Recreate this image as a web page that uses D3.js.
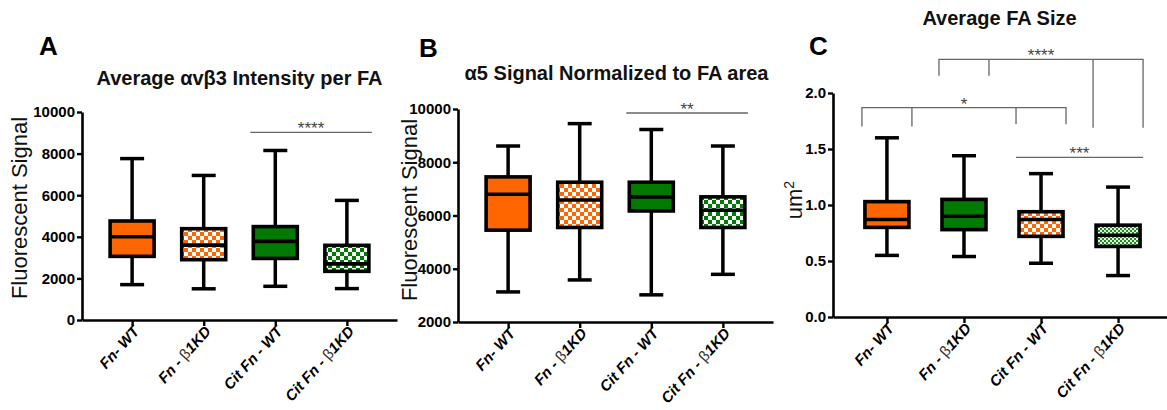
<!DOCTYPE html>
<html>
<head>
<meta charset="utf-8">
<script src="https://cdn.jsdelivr.net/npm/d3@7"></script>
<style>
  body { margin: 0; background: #fff; }
  text { font-family: "Liberation Sans", Arial, sans-serif; }
</style>
</head>
<body>
<div id="chart"></div>
<script>
// Groups (x axis labels); the "β" part is drawn lighter
const categories = ["Fn- WT", "Fn - β1KD", "Cit Fn - WT", "Cit Fn - β1KD"];

// Panel A: average avb3 intensity per FA
const aLow = [1700, 1500, 1620, 1510];
const aQ1 = [3060, 2900, 2960, 2340];
const aMed = [4000, 3600, 3780, 2700];
const aQ3 = [4760, 4390, 4490, 3590];
const aHigh = [7760, 6950, 8150, 5750];
const aTicks = [0, 2000, 4000, 6000, 8000, 10000];

// Panel B: a5 signal normalized to FA area
const bLow = [3130, 3580, 3020, 3790];
const bQ1 = [5450, 5550, 6170, 5550];
const bMed = [6800, 6580, 6700, 6200];
const bQ3 = [7450, 7250, 7250, 6700];
const bHigh = [8610, 9450, 9230, 8610];
const bTicks = [2000, 4000, 6000, 8000, 10000];

// Panel C: average FA size (um2)
const cLow = [0.55, 0.54, 0.48, 0.37];
const cQ1 = [0.80, 0.78, 0.72, 0.63];
const cMed = [0.87, 0.90, 0.87, 0.73];
const cQ3 = [1.03, 1.05, 0.94, 0.82];
const cHigh = [1.60, 1.44, 1.28, 1.16];
const cTicks = [0.0, 0.5, 1.0, 1.5, 2.0];

const ORANGE = "#ff6600";
const GREEN = "#007a00";

const svg = d3.select("#chart").append("svg")
    .attr("width", 1167)
    .attr("height", 410);

// checker patterns
const defs = svg.append("defs");
const checker = (id, color, cell, light) => {
    const p = defs.append("pattern")
        .attr("id", id)
        .attr("patternUnits", "userSpaceOnUse")
        .attr("width", cell * 2)
        .attr("height", cell * 2);
    p.append("rect").attr("width", cell * 2).attr("height", cell * 2).attr("fill", light);
    p.append("rect").attr("width", cell).attr("height", cell).attr("fill", color);
    p.append("rect").attr("x", cell).attr("y", cell).attr("width", cell).attr("height", cell).attr("fill", color);
};
checker("chkOrange", ORANGE, 4, "#fff");
checker("chkGreen", GREEN, 4, "#fff");
checker("chkGreenFine", "#1e8c1e", 2, "#e6f4e6");

const drawPanel = (cfg) => {
    const g = svg.append("g");

    const x = d3.scalePoint()
        .domain(categories)
        .range([cfg.x0, cfg.x1])
        .padding(0.7);

    const y = d3.scaleLinear()
        .domain([cfg.ticks[0], cfg.ticks[cfg.ticks.length - 1]])
        .range([cfg.yBot, cfg.yTop]);

    // y axis
    const yAxis = g.append("g")
        .attr("transform", `translate(${cfg.x0}, 0)`)
        .call(d3.axisLeft(y).tickValues(cfg.ticks).tickSize(5).tickPadding(2)
            .tickSizeOuter(0).tickFormat(cfg.fmt));
    yAxis.select(".domain").attr("stroke-width", 2.6);
    yAxis.selectAll(".tick line").attr("stroke-width", 2.4);
    yAxis.selectAll(".tick text")
        .attr("fill", "#000")
        .style("font-size", "15px")
        .style("font-weight", "bold");

    // x axis
    const xAxis = g.append("g")
        .attr("transform", `translate(0, ${cfg.yBot})`)
        .call(d3.axisBottom(x).tickSize(6).tickSizeOuter(0).tickFormat(""));
    xAxis.select(".domain").attr("stroke-width", 2.6);
    xAxis.selectAll(".tick line").attr("stroke-width", 2.4);

    const labels = g.selectAll(".xlab")
        .data(categories)
        .enter()
        .append("text")
        .attr("class", "xlab")
        .attr("transform", d => `translate(${x(d) + 8}, ${cfg.yBot + 12}) rotate(-48)`)
        .attr("text-anchor", "end")
        .style("font-size", "15px")
        .style("font-weight", "bold")
        .style("font-style", "italic");
    labels.each(function(d) {
        const parts = d.split("β");
        const t = d3.select(this);
        t.append("tspan").text(parts[0]);
        if (parts.length > 1) {
            t.append("tspan").text("β").style("font-weight", "normal").style("font-style", "normal")
                .attr("fill", "#333");
            t.append("tspan").text(parts[1]);
        }
    });

    // boxes
    const boxW = 44, capW = 24;
    const rows = categories.map((c, i) => ({
        c, low: cfg.low[i], q1: cfg.q1[i], med: cfg.med[i], q3: cfg.q3[i], high: cfg.high[i], fill: cfg.fills[i]
    }));
    const box = g.selectAll(".box").data(rows).enter().append("g").attr("class", "box");
    box.append("line")
        .attr("x1", d => x(d.c)).attr("x2", d => x(d.c))
        .attr("y1", d => y(d.low)).attr("y2", d => y(d.high))
        .attr("stroke", "#000").attr("stroke-width", 3.5);
    ["low", "high"].forEach(k => {
        box.append("line")
            .attr("x1", d => x(d.c) - capW / 2).attr("x2", d => x(d.c) + capW / 2)
            .attr("y1", d => y(d[k])).attr("y2", d => y(d[k]))
            .attr("stroke", "#000").attr("stroke-width", 3.5);
    });
    box.append("rect")
        .attr("x", d => x(d.c) - boxW / 2)
        .attr("y", d => y(d.q3))
        .attr("width", boxW)
        .attr("height", d => y(d.q1) - y(d.q3))
        .attr("fill", d => d.fill)
        .attr("stroke", "#000")
        .attr("stroke-width", 3.6);
    box.append("line")
        .attr("x1", d => x(d.c) - boxW / 2).attr("x2", d => x(d.c) + boxW / 2)
        .attr("y1", d => y(d.med)).attr("y2", d => y(d.med))
        .attr("stroke", "#000").attr("stroke-width", 3.6);

    // titles
    g.append("text")
        .attr("x", (cfg.x0 + cfg.x1) / 2 + cfg.titleDx)
        .attr("y", cfg.titleY)
        .attr("text-anchor", "middle")
        .style("font-size", "20px")
        .style("font-weight", "bold")
        .attr("fill", "#111")
        .text(cfg.title);
    g.append("text")
        .attr("x", cfg.letterX)
        .attr("y", cfg.letterY)
        .style("font-size", "26px")
        .style("font-weight", "bold")
        .text(cfg.letter);

    const yl = g.append("text")
        .attr("transform", `translate(${cfg.ylabX}, ${cfg.ylabY}) rotate(-90)`)
        .attr("text-anchor", "middle")
        .style("font-size", "22px")
        .attr("fill", "#111");
    yl.append("tspan").text(cfg.ylab);
    if (cfg.ylabSup) {
        yl.append("tspan").text(cfg.ylabSup).attr("dy", "-0.55em").style("font-size", "14px");
    }

    // significance marks
    const sigColor = "#666";
    const stars = (px, py, label) => g.append("text")
        .attr("x", px)
        .attr("y", py + 2)
        .attr("text-anchor", "middle")
        .style("font-size", "17px")
        .attr("fill", "#444")
        .text(label);
    (cfg.lines || []).forEach(s => {
        g.append("line")
            .attr("x1", x(categories[s.from]) - boxW / 2 - 3)
            .attr("x2", x(categories[s.to]) + boxW / 2 + 3)
            .attr("y1", y(s.at)).attr("y2", y(s.at))
            .attr("stroke", sigColor).attr("stroke-width", 1.3);
        stars((x(categories[s.from]) + x(categories[s.to])) / 2, y(s.at), s.label);
    });
    (cfg.brackets || []).forEach(b => {
        const l0 = x(categories[b.from]) - boxW / 2 - 3, l1 = x(categories[b.from]) + boxW / 2 + 3;
        const r0 = x(categories[b.to]) - boxW / 2 - 3, r1 = x(categories[b.to]) + boxW / 2 + 3;
        g.append("path")
            .attr("d", `M${l0},${y(b.leftEnd)}V${y(b.at)}H${r1}V${y(b.rightEnd)}` +
                `M${l1},${y(b.leftEnd)}V${y(b.at)}M${r0},${y(b.rightEnd)}V${y(b.at)}`)
            .attr("fill", "none")
            .attr("stroke", sigColor).attr("stroke-width", 1.3);
        stars((l0 + r1) / 2, y(b.at), b.label);
    });
};

drawPanel({
    x0: 82, x1: 397, yTop: 112, yBot: 320,
    ticks: aTicks, fmt: d3.format("d"),
    low: aLow, q1: aQ1, med: aMed, q3: aQ3, high: aHigh,
    fills: [ORANGE, "url(#chkOrange)", GREEN, "url(#chkGreen)"],
    title: "Average αvβ3 Intensity per FA", titleY: 85, titleDx: 0,
    letter: "A", letterX: 39, letterY: 55,
    ylab: "Fluorescent Signal", ylabX: 27, ylabY: 208,
    lines: [{ from: 2, to: 3, at: 9020, label: "****" }]
});

drawPanel({
    x0: 458, x1: 773, yTop: 109, yBot: 322,
    ticks: bTicks, fmt: d3.format("d"),
    low: bLow, q1: bQ1, med: bMed, q3: bQ3, high: bHigh,
    fills: [ORANGE, "url(#chkOrange)", GREEN, "url(#chkGreen)"],
    title: "α5 Signal Normalized to FA area", titleY: 80, titleDx: 1,
    letter: "B", letterX: 419, letterY: 57,
    ylab: "Fluorescent Signal", ylabX: 417, ylabY: 210,
    lines: [{ from: 2, to: 3, at: 9850, label: "**" }]
});

drawPanel({
    x0: 833, x1: 1172, yTop: 93, yBot: 317,
    ticks: cTicks, fmt: d3.format(".1f"),
    low: cLow, q1: cQ1, med: cMed, q3: cQ3, high: cHigh,
    fills: [ORANGE, GREEN, "url(#chkOrange)", "url(#chkGreenFine)"],
    title: "Average FA Size", titleY: 25, titleDx: -3,
    letter: "C", letterX: 809, letterY: 55,
    ylab: "um", ylabSup: "2", ylabX: 802, ylabY: 200,
    lines: [{ from: 2, to: 3, at: 1.425, label: "***" }],
    brackets: [
        { from: 0, to: 2, at: 1.87, leftEnd: 1.70, rightEnd: 1.72, label: "*" },
        { from: 1, to: 3, at: 2.30, leftEnd: 2.155, rightEnd: 1.69, label: "****" }
    ]
});
</script>
</body>
</html>
